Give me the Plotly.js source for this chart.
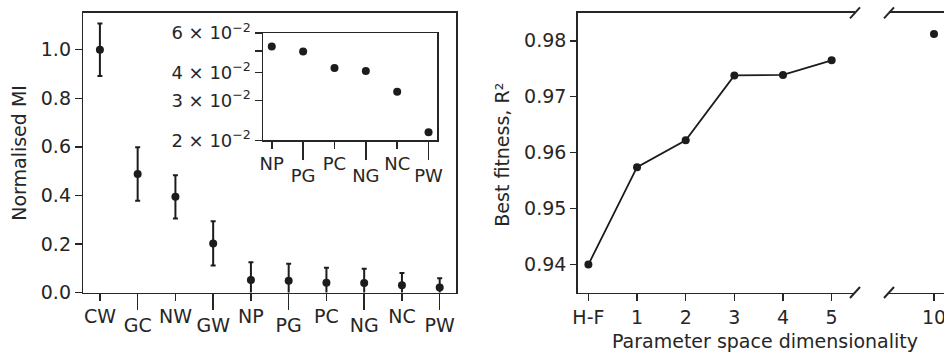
<!DOCTYPE html>
<html>
<head>
<meta charset="utf-8">
<script src="https://cdn.plot.ly/plotly-3.0.1.min.js"></script>
<style>
html,body{margin:0;padding:0;overflow:hidden;background:#fff;}
#chart{width:960px;height:352px;}
</style>
</head>
<body>
<div id="chart"></div>
<script>
// ---- data ----
const categories = ['CW','GC','NW','GW','NP','PG','PC','NG','NC','PW'];
const normMI     = [1.000, 0.488, 0.394, 0.202, 0.051, 0.048, 0.040, 0.039, 0.030, 0.021];
const normMIErr  = [0.108, 0.110, 0.089, 0.091, 0.074, 0.070, 0.062, 0.059, 0.050, 0.038];

const insetCats  = ['NP','PG','PC','NG','NC','PW'];
const insetMI    = [0.0522, 0.0497, 0.0419, 0.0407, 0.0329, 0.0217];
const insetTickVals = [0.02, 0.03, 0.04, 0.05, 0.06];
const insetTickText = ['2 × 10<sup>−2</sup>', '3 × 10<sup>−2</sup>', '4 × 10<sup>−2</sup>', ' ', '6 × 10<sup>−2</sup>'];

const dimLabels  = ['H-F','1','2','3','4','5'];
const fitness    = [0.9400, 0.9574, 0.9622, 0.9738, 0.9739, 0.9765];
const highDim    = [10];
const highDimLabels = ['10'];
const highFitness = [0.9812];

const miTicks = [0, 0.2, 0.4, 0.6, 0.8, 1.0];
const fitTicks = [0.94, 0.95, 0.96, 0.97, 0.98];

// ---- layout helpers (pixel -> paper) ----
const W = 960, H = 352;
const fx = p => p / W;
const fy = p => 1 - p / H;

const ink = '#262626';
const dot = '#1c1c1c';
const font = {family: 'DejaVu Sans, sans-serif', size: 19, color: ink};
const insetFont = {family: 'DejaVu Sans, sans-serif', size: 18, color: ink};

const idx = a => a.map((_, i) => i);
const evenIdx = a => idx(a).filter(i => i % 2 === 0);
const oddIdx = a => idx(a).filter(i => i % 2 === 1);

const baseAxis = {
  showgrid: false, zeroline: false, ticks: 'outside', tickwidth: 1.5,
  tickcolor: ink, linecolor: ink, linewidth: 1.5, tickfont: font, fixedrange: true
};

// invisible helper traces so that the staggered (overlaying) tick axes are drawn
const helper = (xa, ya, xs) => ({
  x: xs, y: xs.map(() => null), xaxis: xa, yaxis: ya, type: 'scatter', mode: 'markers',
  marker: {opacity: 0}, showlegend: false, hoverinfo: 'skip'
});

const traces = [
  {
    x: idx(categories), y: normMI, xaxis: 'x', yaxis: 'y', type: 'scatter', mode: 'markers',
    marker: {color: dot, size: 8},
    error_y: {type: 'data', array: normMIErr, visible: true, color: dot, thickness: 2, width: 2.5},
    showlegend: false, hoverinfo: 'skip'
  },
  helper('x2', 'y', oddIdx(categories)),
  {
    x: idx(insetCats), y: insetMI, xaxis: 'x3', yaxis: 'y3', type: 'scatter', mode: 'markers',
    marker: {color: dot, size: 8}, showlegend: false, hoverinfo: 'skip'
  },
  helper('x4', 'y3', oddIdx(insetCats)),
  {
    x: idx(dimLabels), y: fitness, xaxis: 'x5', yaxis: 'y5', type: 'scatter', mode: 'lines+markers',
    line: {color: dot, width: 1.8}, marker: {color: dot, size: 8}, showlegend: false, hoverinfo: 'skip'
  },
  {
    x: highDim, y: highFitness, xaxis: 'x6', yaxis: 'y6', type: 'scatter', mode: 'markers',
    marker: {color: dot, size: 8}, showlegend: false, hoverinfo: 'skip', cliponaxis: false
  }
];

const yDom = [fy(292.5), fy(12.8)];

const layout = {
  width: W, height: H,
  margin: {l: 0, r: 0, t: 0, b: 0, pad: 0},
  paper_bgcolor: '#fff', plot_bgcolor: 'rgba(0,0,0,0)',
  font: font, showlegend: false,
  // main left panel
  xaxis: Object.assign({}, baseAxis, {
    domain: [fx(83.3), fx(456.3)], anchor: 'y', range: [-0.44, 9.44],
    tickvals: evenIdx(categories), ticktext: evenIdx(categories).map(i => categories[i]),
    ticklen: 6.5, showline: true, mirror: true
  }),
  xaxis2: Object.assign({}, baseAxis, {
    domain: [fx(83.3), fx(456.3)], anchor: 'y', overlaying: 'x', range: [-0.44, 9.44],
    tickvals: oddIdx(categories), ticktext: oddIdx(categories).map(i => categories[i]),
    ticklen: 16, showline: false, side: 'bottom'
  }),
  yaxis: Object.assign({}, baseAxis, {
    domain: yDom, anchor: 'x', range: [0, 1.152],
    tickvals: miTicks, tickformat: '.1f', ticklen: 7, showline: true, mirror: true
  }),
  // inset
  xaxis3: Object.assign({}, baseAxis, {
    domain: [fx(263), fx(437)], anchor: 'y3', range: [-0.28, 5.27],
    tickvals: evenIdx(insetCats), ticktext: evenIdx(insetCats).map(i => insetCats[i]),
    ticklen: 7, showline: true, mirror: true, tickfont: insetFont
  }),
  xaxis4: Object.assign({}, baseAxis, {
    domain: [fx(263), fx(437)], anchor: 'y3', overlaying: 'x3', range: [-0.28, 5.27],
    tickvals: oddIdx(insetCats), ticktext: oddIdx(insetCats).map(i => insetCats[i]),
    ticklen: 19, showline: false, side: 'bottom', tickfont: insetFont
  }),
  yaxis3: Object.assign({}, baseAxis, {
    domain: [fy(140.3), fy(33)], anchor: 'x3', type: 'log',
    range: [Math.log10(0.02), Math.log10(0.06)],
    tickvals: insetTickVals, ticktext: insetTickText, ticklen: 7, showline: true, mirror: true,
    tickfont: insetFont
  }),
  // right panel, left part
  xaxis5: Object.assign({}, baseAxis, {
    domain: [fx(577.7), fx(855)], anchor: 'y5', range: [-0.22, 5.48],
    tickvals: idx(dimLabels), ticktext: dimLabels, ticklen: 7, showline: true, mirror: true
  }),
  yaxis5: Object.assign({}, baseAxis, {
    domain: yDom, anchor: 'x5', range: [0.935, 0.985],
    tickvals: fitTicks, tickformat: '.2f', ticklen: 6, showline: true, mirror: false
  }),
  // right panel, broken part
  xaxis6: Object.assign({}, baseAxis, {
    domain: [fx(889), fx(952)], anchor: 'y6', range: [9.0, 10.4],
    tickvals: highDim, ticktext: highDimLabels, ticklen: 7, showline: true, mirror: true
  }),
  yaxis6: Object.assign({}, baseAxis, {
    domain: yDom, anchor: 'x6', range: [0.935, 0.985],
    showline: false, ticks: '', showticklabels: false
  }),
  annotations: [
    {text: 'Normalised MI', xref: 'paper', yref: 'paper', x: fx(18.3), y: fy(152.5),
     textangle: -90, showarrow: false, xanchor: 'center', yanchor: 'middle', font: font},
    {text: 'Best fitness, R²', xref: 'paper', yref: 'paper', x: fx(501.7), y: fy(155),
     textangle: -90, showarrow: false, xanchor: 'center', yanchor: 'middle', font: font},
    {text: 'Parameter space dimensionality', xref: 'paper', yref: 'paper', x: fx(765), y: fy(341),
     showarrow: false, xanchor: 'center', yanchor: 'middle', font: font}
  ],
  shapes: [
    [855, 12.8], [855, 292.5], [889, 12.8], [889, 292.5]
  ].map(([cx, cy]) => ({
    type: 'line', xref: 'paper', yref: 'paper',
    x0: fx(cx - 5), y0: fy(cy + 5.5), x1: fx(cx + 5), y1: fy(cy - 5.5),
    line: {color: ink, width: 2}
  }))
};

Plotly.newPlot('chart', traces, layout, {staticPlot: true, displayModeBar: false});
</script>
</body>
</html>
